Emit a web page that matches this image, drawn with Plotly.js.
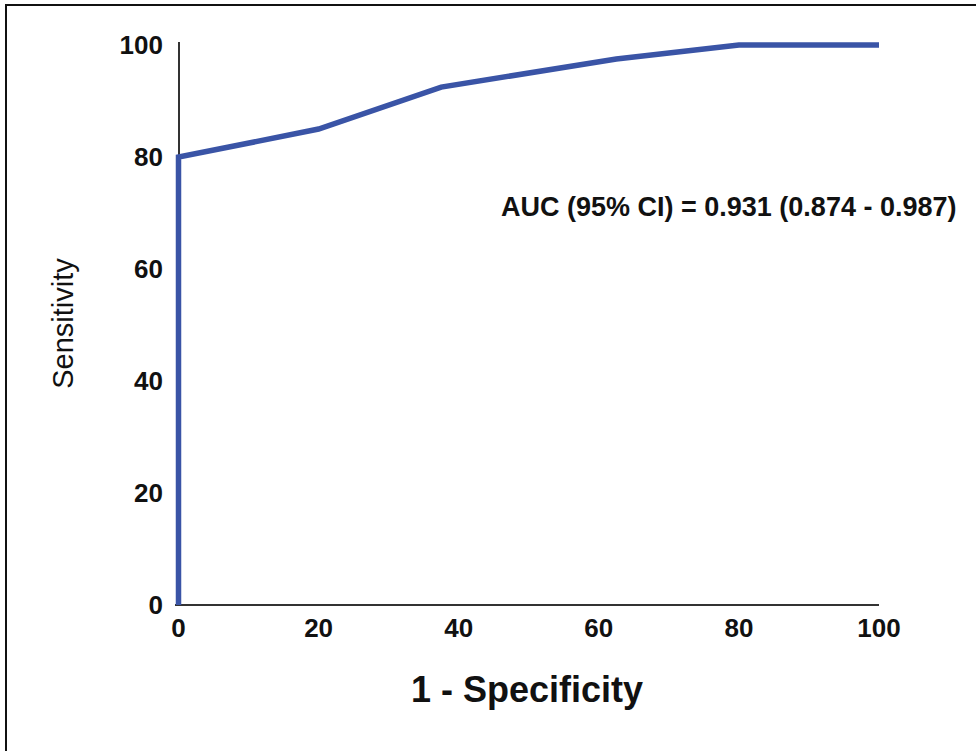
<!DOCTYPE html>
<html>
<head>
<meta charset="utf-8">
<script src="https://cdn.plot.ly/plotly-3.0.1.min.js"></script>
<style>
  html, body { margin: 0; padding: 0; background: #fff; }
  #wrap { position: relative; width: 976px; height: 751px; overflow: hidden; }
  #chart { position: absolute; left: 0; top: 0; width: 976px; height: 751px; }
  #frame { position: absolute; left: 5px; top: 4px; width: 980px; height: 760px;
           border-top: 2px solid #111; border-left: 2px solid #111; pointer-events: none; }
</style>
</head>
<body>
<div id="wrap">
  <div id="chart"></div>
  <div id="frame"></div>
</div>
<script>
// ROC curve points
const oneMinusSpecificity = [0, 0, 20, 37.5, 62.5, 80, 100];
const sensitivity = [0, 80, 85, 92.5, 97.5, 100, 100];
const tickValues = [0, 20, 40, 60, 80, 100];
const tickLabels = ["0", "20", "40", "60", "80", "100"];
const aucText = "AUC (95% CI) = 0.931 (0.874 - 0.987)";
const aucPos = { x: 45.7, y: 71 };

const trace = {
  x: oneMinusSpecificity,
  y: sensitivity,
  type: "scatter",
  mode: "lines",
  line: { color: "#3a54a6", width: 5.5 },
  hoverinfo: "skip"
};

const tickFont = { family: "Liberation Sans, Arial, sans-serif", size: 26, color: "#111", weight: "bold" };

const layout = {
  width: 976,
  height: 751,
  margin: { l: 175, r: 97, t: 42, b: 146, pad: 0 },
  paper_bgcolor: "#ffffff",
  plot_bgcolor: "#ffffff",
  showlegend: false,
  xaxis: {
    range: [-0.5, 100],
    tickvals: tickValues,
    ticktext: tickLabels,
    showgrid: false,
    zeroline: true,
    zerolinecolor: "#333",
    zerolinewidth: 2,
    showline: false,
    ticks: "",
    ticklabelstandoff: 5,
    tickfont: tickFont,
    title: { text: "1 - Specificity", standoff: 34,
             font: { family: "Liberation Sans, Arial, sans-serif", size: 36, color: "#111", weight: "bold" } }
  },
  yaxis: {
    range: [0, 100.55],
    tickvals: tickValues,
    ticktext: tickLabels,
    showgrid: false,
    zeroline: true,
    zerolinecolor: "#333",
    zerolinewidth: 2,
    showline: false,
    ticks: "",
    ticklabelstandoff: 11,
    tickfont: tickFont,
    title: { text: "Sensitivity", standoff: 37,
             font: { family: "Liberation Sans, Arial, sans-serif", size: 29, color: "#111" } }
  },
  annotations: [{
    x: aucPos.x, y: aucPos.y, xref: "x", yref: "y",
    xanchor: "left", yanchor: "middle",
    text: aucText, showarrow: false,
    font: { family: "Liberation Sans, Arial, sans-serif", size: 27, color: "#111", weight: "bold" }
  }]
};

Plotly.newPlot("chart", [trace], layout, { staticPlot: true, displayModeBar: false });
</script>
</body>
</html>
